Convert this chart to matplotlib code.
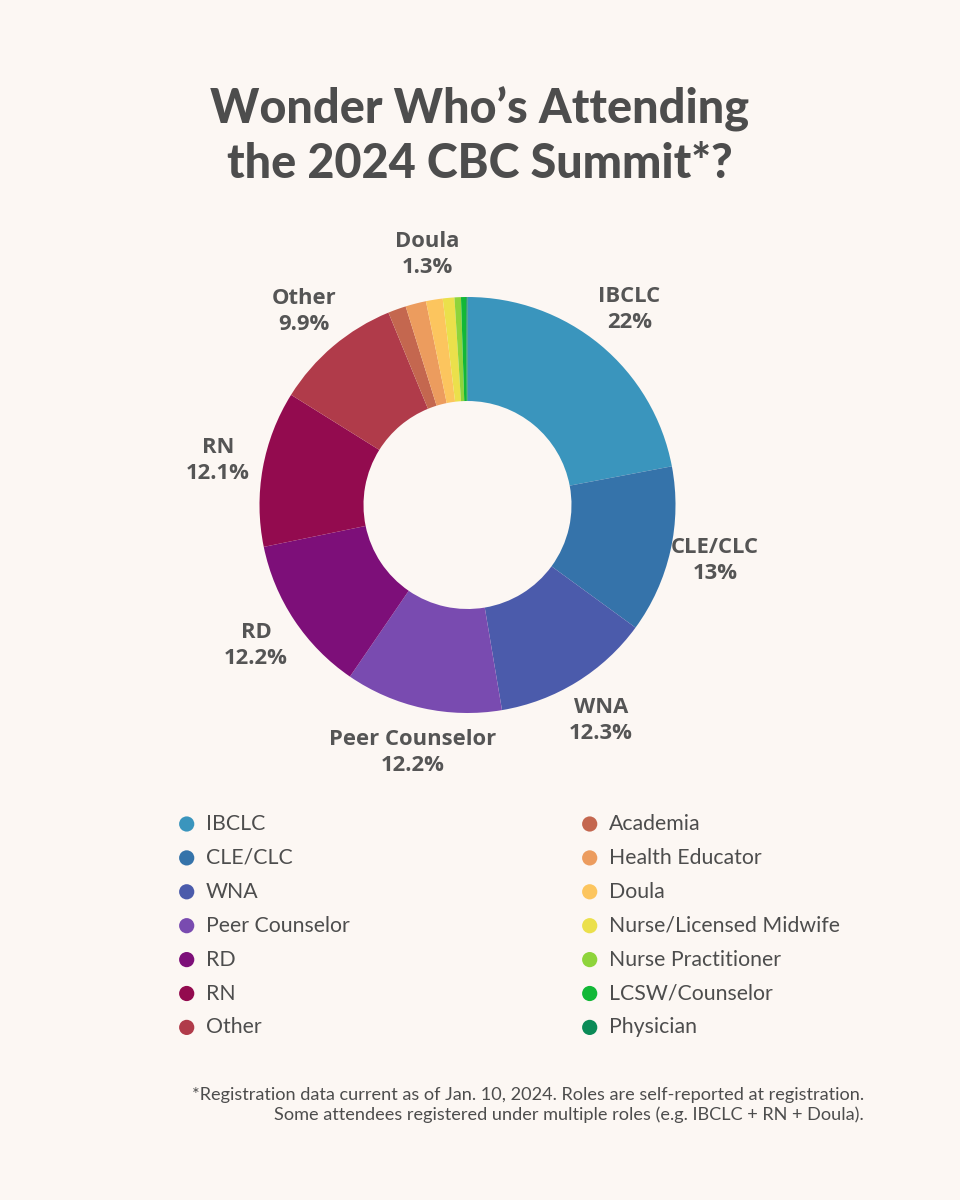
import numpy as np
import matplotlib
matplotlib.use('Agg')
import matplotlib.pyplot as plt

# Attendee roles, 2024 CBC Summit (share of registrations, %)
roles = ['IBCLC', 'CLE/CLC', 'WNA', 'Peer Counselor', 'RD', 'RN', 'Other',
         'Academia', 'Health Educator', 'Doula', 'Nurse/Licensed Midwife',
         'Nurse Practitioner', 'LCSW/Counselor', 'Physician']
shares = [22.0, 13.0, 12.3, 12.2, 12.2, 12.1, 9.9,
          1.4, 1.6, 1.3, 0.9, 0.5, 0.4, 0.1]
colors = ['#3a95bd', '#3573aa', '#4b5bab', '#794bb0', '#7d0f79', '#930b4f',
          '#b03b4a', '#c4674f', '#ec9c5e', '#fcc55e', '#ebe04b', '#8ed43b',
          '#12b837', '#0b8b57']
# slice labels shown around the donut (None = no label)
slice_labels = ['IBCLC\n22%', 'CLE/CLC\n13%', 'WNA\n12.3%',
                'Peer Counselor\n12.2%', 'RD\n12.2%', 'RN\n12.1%',
                'Other\n9.9%', None, None, 'Doula\n1.3%', None, None,
                None, None]

title = "Wonder Who\u2019s Attending\nthe 2024 CBC Summit*?"
footnote = ("*Registration data current as of Jan. 10, 2024. Roles are self-reported at registration.\n"
            "Some attendees registered under multiple roles (e.g. IBCLC + RN + Doula).")

bg = '#fcf7f3'
text_dark = '#4d4d4d'

fig = plt.figure(figsize=(9.6, 12), dpi=100, facecolor=bg)

# donut: centre (467, 505) px, outer radius 208 px
R = 208
cx, cy = 467.5, 505
half = 300
ax = fig.add_axes([(cx - half) / 960, (1200 - cy - half) / 1200,
                   2 * half / 960, 2 * half / 1200])
ax.set_facecolor(bg)
wedges, _ = ax.pie(shares, colors=colors, startangle=90, counterclock=False,
                   radius=1.0, wedgeprops=dict(width=0.5, linewidth=0))
lim = half / R
ax.set_xlim(-lim, lim)
ax.set_ylim(-lim, lim)
ax.set_aspect('equal')
ax.axis('off')

for w, lab in zip(wedges, slice_labels):
    if lab is None:
        continue
    ang = np.deg2rad((w.theta1 + w.theta2) / 2)
    ax.text(1.22 * np.cos(ang), 1.22 * np.sin(ang), lab,
            ha='center', va='center', fontsize=15.8, fontweight='bold',
            family='Open Sans', color='#555555', linespacing=1.3)

# overlay in pixel coordinates for title, legend and footnote
ov = fig.add_axes([0, 0, 1, 1])
ov.set_xlim(0, 960)
ov.set_ylim(1200, 0)
ov.axis('off')
ov.patch.set_alpha(0)

ov.text(480, 136, title, ha='center', va='center', fontsize=33.7,
        fontweight='black', family='Lato', color=text_dark, linespacing=1.28)

# legend: two columns of seven
for i, (name, c) in enumerate(zip(roles, colors)):
    col, row = divmod(i, 7)
    x = 186.7 + col * 403
    y = 824 + row * 33.9
    ov.scatter([x], [y], s=120, color=c, edgecolor='none')
    ov.text(x + 19, y, name, ha='left', va='center', fontsize=15.3,
            family='Lato', color=text_dark)

ov.text(864, 1105, footnote, ha='right', va='center', fontsize=13.1,
        family='Lato', color=text_dark, linespacing=1.2,
        multialignment='right')

fig.savefig('out.png', dpi=100, facecolor=bg)
